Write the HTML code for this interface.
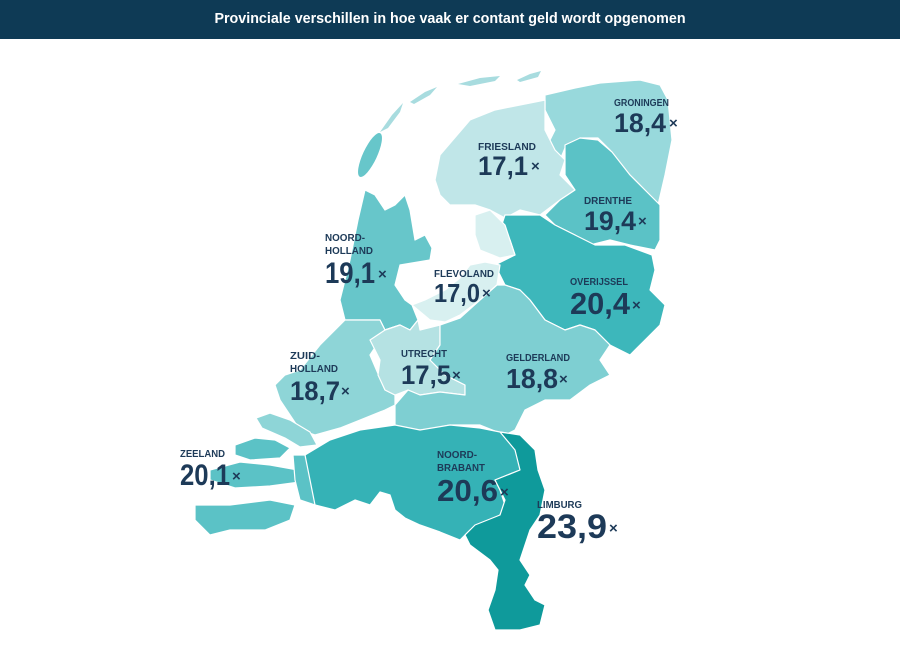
<!DOCTYPE html>
<html><head><meta charset="utf-8"><style>
body{margin:0;width:900px;height:654px;background:#fff;overflow:hidden;font-family:"Liberation Sans",sans-serif}
.t{position:absolute;left:0;top:0;width:900px;height:39px;background:#0e3a55;color:#fff;font-weight:bold;font-size:14.3px;text-align:center;line-height:39px}
svg{position:absolute;left:0;top:0}
.l{font-family:"Liberation Sans",sans-serif;font-weight:bold;font-size:10.5px;fill:#1d3a58}
.n{font-family:"Liberation Sans",sans-serif;font-weight:bold;fill:#1d3a58}
.x{font-family:"Liberation Sans",sans-serif;font-size:15px;font-weight:bold;fill:#1d3a58}
</style></head><body>
<div class="t">Provinciale verschillen in hoe vaak er contant geld wordt opgenomen</div>
<svg width="900" height="654" viewBox="0 0 900 654" stroke="#fff" stroke-width="1.2" stroke-linejoin="round">
<g fill="#a8dcdf" stroke="none">
<path d="M380,132 L392,115 L403,103 L400,112 L388,128 Z"/>
<path d="M410,102 L425,92 L437,87 L430,95 L414,104 Z"/>
<path d="M458,84 L480,78 L500,76 L495,81 L470,86 Z"/>
<path d="M517,80 L530,74 L541,71 L538,77 L520,82 Z"/>
</g>
<ellipse cx="370" cy="155" rx="7" ry="24" transform="rotate(25 370 155)" fill="#67c6ca" stroke="none"/>
<path fill="#98d9dc" d="M545,95 L575,88 L600,83 L640,80 L660,85 L668,100 L672,140 L665,175 L658,205 L640,185 L625,170 L610,150 L598,138 L580,138 L565,148 L560,160 L545,150 L555,130 L545,110 Z"/>
<path fill="#c0e6e8" d="M440,155 L470,120 L495,110 L530,103 L545,100 L545,130 L555,150 L565,160 L560,175 L575,190 L560,200 L540,215 L520,210 L505,218 L490,210 L475,205 L450,205 L440,195 L435,180 Z"/>
<path fill="#5bc2c6" d="M565,145 L580,138 L598,140 L612,152 L630,175 L650,195 L660,205 L660,240 L655,250 L630,245 L610,240 L590,245 L575,235 L555,225 L545,215 L560,200 L575,190 L565,175 Z"/>
<path fill="#3db7bb" d="M505,215 L540,215 L555,225 L575,235 L595,245 L625,245 L652,255 L655,270 L650,290 L665,305 L660,325 L645,340 L630,355 L610,345 L595,330 L580,325 L565,330 L545,320 L530,300 L520,290 L505,285 L495,265 L515,255 L510,240 L500,230 Z"/>
<path fill="#d8f0f0" d="M475,215 L490,210 L505,225 L510,240 L515,255 L500,258 L480,250 L475,235 Z"/>
<path fill="#d8f0f0" d="M485,262 L500,265 L497,285 L480,300 L460,315 L445,322 L430,320 L412,305 L425,300 L445,290 L460,278 L470,265 Z"/>
<path fill="#67c6ca" d="M365,190 L375,195 L385,210 L395,205 L405,195 L410,210 L415,240 L425,235 L432,248 L430,260 L400,265 L395,285 L405,300 L412,305 L418,320 L410,330 L400,325 L385,330 L380,320 L355,320 L345,320 L340,300 L350,260 L358,220 Z"/>
<path fill="#8ed5d7" d="M345,320 L380,320 L385,330 L400,325 L405,335 L380,340 L370,355 L385,390 L395,395 L395,405 L385,410 L360,420 L340,428 L315,435 L300,430 L290,415 L280,400 L275,385 L285,375 L300,370 L320,345 L335,330 Z"/>
<path fill="#8ed5d7" d="M256,418 L270,413 L290,420 L310,432 L317,445 L300,447 L285,438 L262,428 Z"/>
<path fill="#b5e2e3" d="M370,340 L385,330 L400,325 L410,330 L418,320 L420,330 L440,325 L440,345 L430,360 L445,375 L465,385 L465,395 L440,392 L420,395 L408,390 L395,395 L385,390 L378,375 L380,360 Z"/>
<path fill="#7ecfd2" d="M440,325 L460,318 L480,300 L497,285 L505,285 L520,290 L530,300 L545,320 L565,330 L580,325 L595,330 L610,345 L600,360 L610,375 L590,385 L570,400 L545,400 L525,410 L515,430 L505,435 L480,425 L450,425 L425,430 L395,430 L395,405 L408,390 L420,395 L440,392 L465,395 L465,385 L445,375 L430,360 L440,345 Z"/>
<path fill="#35b2b6" d="M305,455 L330,440 L360,430 L395,425 L420,430 L450,425 L480,428 L500,432 L520,435 L530,455 L520,470 L495,480 L500,490 L505,505 L500,515 L470,530 L460,540 L440,532 L420,525 L405,518 L395,510 L390,495 L380,492 L370,505 L355,500 L335,510 L315,505 L305,480 Z"/>
<path fill="#0f9a9b" d="M500,432 L520,435 L535,450 L538,470 L545,490 L540,515 L530,530 L525,545 L520,560 L530,575 L525,585 L535,600 L545,605 L540,625 L520,630 L495,630 L488,610 L495,590 L498,570 L490,560 L470,545 L465,535 L475,525 L500,515 L505,500 L495,480 L520,470 L515,450 Z"/>
<g fill="#5bc2c6">
<path d="M235,445 L255,438 L275,440 L290,448 L280,458 L250,460 L235,455 Z"/>
<path d="M210,470 L240,462 L270,465 L298,470 L300,482 L270,486 L235,488 L210,480 Z"/>
<path d="M195,505 L230,505 L270,500 L295,505 L290,520 L265,530 L230,530 L210,535 L195,520 Z"/>
<path d="M293,455 L305,455 L310,480 L315,505 L300,500 L295,480 Z"/>
</g>
<g stroke="none">
<text class="l" x="614" y="106" textLength="55" lengthAdjust="spacingAndGlyphs">GRONINGEN</text>
<text class="n" x="614" y="132" font-size="27" textLength="52" lengthAdjust="spacingAndGlyphs">18,4</text><text class="x" x="669" y="128">×</text>
<text class="l" x="478" y="150" textLength="58" lengthAdjust="spacingAndGlyphs">FRIESLAND</text>
<text class="n" x="478" y="175" font-size="27" textLength="50" lengthAdjust="spacingAndGlyphs">17,1</text><text class="x" x="531" y="171">×</text>
<text class="l" x="584" y="204" textLength="48" lengthAdjust="spacingAndGlyphs">DRENTHE</text>
<text class="n" x="584" y="230" font-size="27" textLength="52" lengthAdjust="spacingAndGlyphs">19,4</text><text class="x" x="638" y="226">×</text>
<text class="l" x="325" y="241" textLength="40" lengthAdjust="spacingAndGlyphs">NOORD-</text>
<text class="l" x="325" y="254" textLength="48" lengthAdjust="spacingAndGlyphs">HOLLAND</text>
<text class="n" x="325" y="283" font-size="30" textLength="50" lengthAdjust="spacingAndGlyphs">19,1</text><text class="x" x="378" y="279">×</text>
<text class="l" x="434" y="277" textLength="60" lengthAdjust="spacingAndGlyphs">FLEVOLAND</text>
<text class="n" x="434" y="302" font-size="26" textLength="46" lengthAdjust="spacingAndGlyphs">17,0</text><text class="x" x="482" y="298">×</text>
<text class="l" x="570" y="285" textLength="58" lengthAdjust="spacingAndGlyphs">OVERIJSSEL</text>
<text class="n" x="570" y="314" font-size="31" textLength="60" lengthAdjust="spacingAndGlyphs">20,4</text><text class="x" x="632" y="310">×</text>
<text class="l" x="290" y="359" textLength="30" lengthAdjust="spacingAndGlyphs">ZUID-</text>
<text class="l" x="290" y="372" textLength="48" lengthAdjust="spacingAndGlyphs">HOLLAND</text>
<text class="n" x="290" y="400" font-size="27" textLength="50" lengthAdjust="spacingAndGlyphs">18,7</text><text class="x" x="341" y="396">×</text>
<text class="l" x="401" y="357" textLength="46" lengthAdjust="spacingAndGlyphs">UTRECHT</text>
<text class="n" x="401" y="384" font-size="27" textLength="50" lengthAdjust="spacingAndGlyphs">17,5</text><text class="x" x="452" y="380">×</text>
<text class="l" x="506" y="361" textLength="64" lengthAdjust="spacingAndGlyphs">GELDERLAND</text>
<text class="n" x="506" y="388" font-size="28" textLength="52" lengthAdjust="spacingAndGlyphs">18,8</text><text class="x" x="559" y="384">×</text>
<text class="l" x="180" y="457" textLength="45" lengthAdjust="spacingAndGlyphs">ZEELAND</text>
<text class="n" x="180" y="485" font-size="30" textLength="50" lengthAdjust="spacingAndGlyphs">20,1</text><text class="x" x="232" y="481">×</text>
<text class="l" x="437" y="458" textLength="40" lengthAdjust="spacingAndGlyphs">NOORD-</text>
<text class="l" x="437" y="471" textLength="48" lengthAdjust="spacingAndGlyphs">BRABANT</text>
<text class="n" x="437" y="501" font-size="31" textLength="61" lengthAdjust="spacingAndGlyphs">20,6</text><text class="x" x="500" y="497">×</text>
<text class="l" x="537" y="508" textLength="45" lengthAdjust="spacingAndGlyphs">LIMBURG</text>
<text class="n" x="537" y="538" font-size="34" textLength="70" lengthAdjust="spacingAndGlyphs">23,9</text><text class="x" x="609" y="533" font-size="17">×</text>
</g>
</svg>
</body></html>
